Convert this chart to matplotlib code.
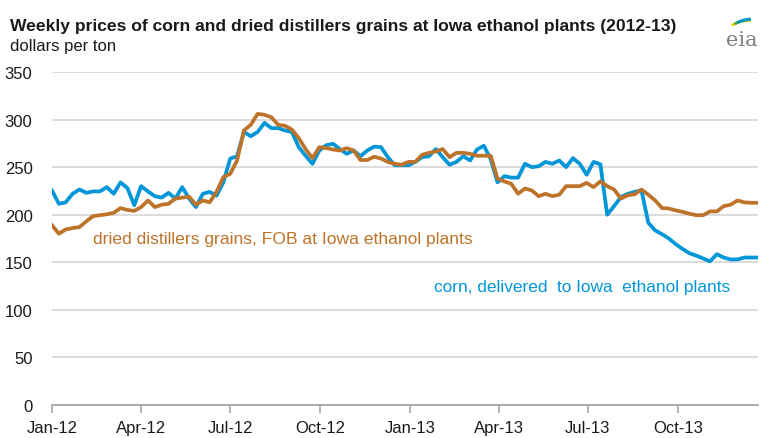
import matplotlib
matplotlib.use('Agg')
import matplotlib.pyplot as plt
import matplotlib.dates as mdates
from matplotlib.patches import Arc
import numpy as np
import pandas as pd

# Donnees hebdomadaires (dollars par tonne)
semaines = pd.date_range('2012-01-01', periods=104, freq='7D')

mais = [225.5, 211.5, 213, 222, 226.5, 223, 224.5, 224.5, 229, 222,
        234, 228, 210, 230, 224.5, 219.5, 218, 223, 217, 229,
        217, 208, 222, 224, 220, 234, 259, 261.5, 287, 282.5,
        287, 296.5, 291, 291, 288.5, 287, 271, 262, 253.5, 267.5,
        273, 274.5, 269, 264, 267.5, 261.5, 267.5, 271.5, 271, 260.5,
        252, 252, 252, 255.5, 260.5, 261.5, 269, 260.5, 252.5, 255.5,
        261.5, 257, 268.5, 272.5, 258.5, 234, 240.5, 239, 239, 253.5,
        250, 251, 255.5, 253.5, 257, 250, 259.5, 253.5, 242, 255.5,
        253, 200, 209, 218.5, 222, 224, 225.5, 191.5, 183.5, 179.5,
        175, 169, 164, 159.5, 157, 154, 151, 158.5, 155, 153,
        153, 155, 155, 155]

dreches = [189, 180, 184.5, 186, 187, 193, 198.5, 199.5, 200.5, 202,
           207, 205, 204, 208, 215, 208, 210.5, 211.5, 217, 218,
           219, 210.5, 215, 213, 224, 239.5, 243, 257, 288.5, 294.5,
           306, 305, 302.5, 294.5, 293.5, 289.5, 280.5, 269, 259.5, 271,
           270, 268.5, 267.5, 270, 267.5, 257.5, 257.5, 261, 259, 255.5,
           253.5, 252.5, 255.5, 255.5, 263, 265, 266.5, 269, 260.5, 265,
           265, 264, 262, 262, 262, 238, 235, 232.5, 222, 227.5,
           225.5, 219.5, 222, 219.5, 221, 230, 230, 230, 233.5, 229,
           235, 230, 226.5, 217, 220.5, 221.5, 226.5, 221, 215, 207,
           206.5, 204.5, 203, 201, 199.5, 199.5, 203.5, 203.5, 209, 210.5,
           215, 213, 212.5, 212.5]

graduations_y = [0, 50, 100, 150, 200, 250, 300, 350]
mois_ticks = pd.date_range('2012-01-01', '2013-10-01', freq='3MS')

bleu = '#0096d7'
brun = '#bd732a'

plt.rcParams['font.family'] = ['Liberation Sans', 'DejaVu Sans']

fig = plt.figure(figsize=(7.6, 4.39), dpi=100)
ax = fig.add_axes([52/760, 1 - 406/439, 706/760, 333/439])

ax.plot(semaines, mais, color=bleu, lw=2.7, solid_joinstyle='round', zorder=3)
ax.plot(semaines, dreches, color=brun, lw=2.7, solid_joinstyle='round', zorder=4)

ax.set_ylim(0, 350)
ax.set_xlim(semaines[0], semaines[-1])
ax.set_yticks(graduations_y)
ax.set_xticks(mois_ticks)
ax.xaxis.set_major_formatter(mdates.DateFormatter('%b-%y'))

ax.grid(axis='y', color='#d9d9d9', lw=1.3)
ax.set_axisbelow(True)
for s in ['top', 'right', 'left']:
    ax.spines[s].set_visible(False)
ax.spines['bottom'].set_color('#a6a6a6')
ax.spines['bottom'].set_linewidth(1.3)
ax.spines['bottom'].set_zorder(5)
ax.tick_params(axis='y', length=0, pad=14, labelsize=12, labelcolor='#1a1a1a')
ax.tick_params(axis='x', length=6, width=1.2, color='#a6a6a6', pad=5,
               labelsize=12, labelcolor='#1a1a1a')

# Annotations des series
ax.text(semaines[6], 175, 'dried distillers grains, FOB at Iowa ethanol plants',
        color=brun, fontsize=12.6, va='center', ha='left')
ax.text(semaines[99], 125, 'corn, delivered  to Iowa  ethanol plants',
        color=bleu, fontsize=12.4, va='center', ha='right')

# Titre
fig.text(10/760, 1 - 26/439, 'Weekly prices of corn and dried distillers grains at Iowa ethanol plants (2012-13)',
         fontsize=12.6, fontweight='bold', va='center', ha='left', color='#1a1a1a')
fig.text(10/760, 1 - 47/439, 'dollars per ton', fontsize=12, va='center', ha='left', color='#1a1a1a')

# Logo eia
fig.text(742/760, 1 - 40/439, 'eia', fontsize=15, family='DejaVu Serif', color='#808080',
         va='center', ha='center')
for couleur, r, dy in [('#f5c400', 28, 0), ('#3aa935', 24, 3), ('#0096d7', 20, 6)]:
    arc = Arc((752, 439 - 38 + dy), 2*r, 2*r*0.6, theta1=95, theta2=150,
              color=couleur, lw=2, transform=None)
    fig.add_artist(arc)

fig.savefig('out.png', dpi=100)
